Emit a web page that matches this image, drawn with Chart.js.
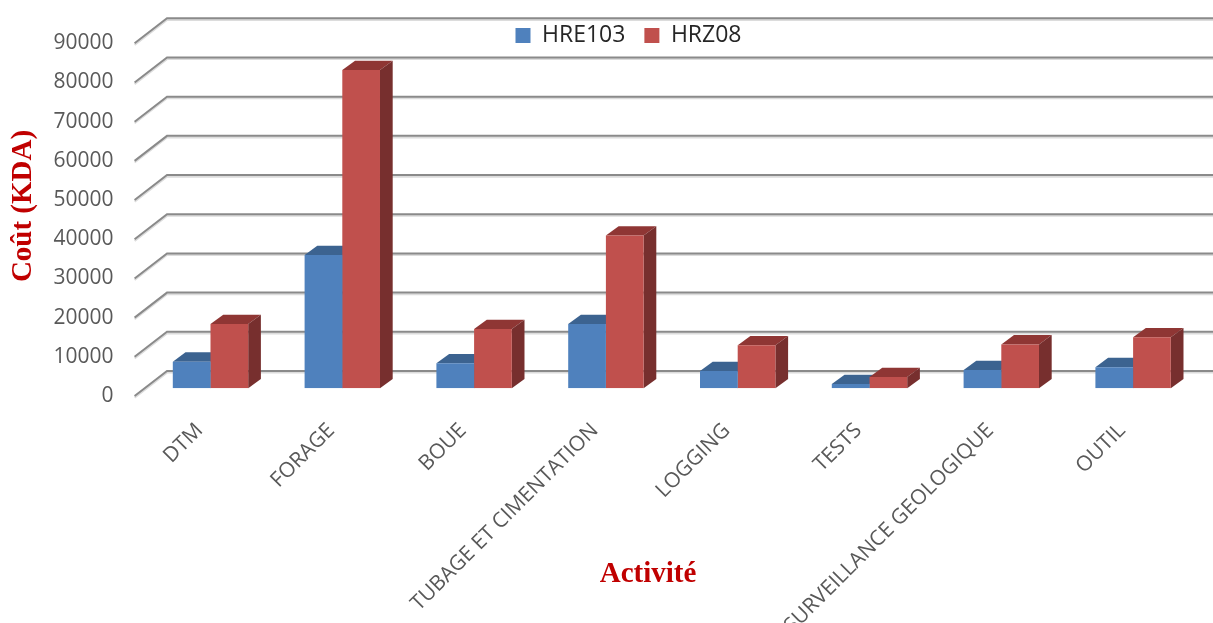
<!DOCTYPE html>
<html lang="fr">
<head>
<meta charset="utf-8">
<title>Coût par activité</title>
<script src="https://cdn.jsdelivr.net/npm/chart.js@4"></script>
<style>
    html, body { margin: 0; padding: 0; background: #fff; overflow: hidden; }
    #wrap { position: relative; width: 1213px; height: 623px; }
</style>
</head>
<body>
<div id="wrap"><canvas id="costChart"></canvas></div>
<script>
const activities = ['DTM', 'FORAGE', 'BOUE', 'TUBAGE ET CIMENTATION', 'LOGGING', 'TESTS', 'SURVEILLANCE GEOLOGIQUE', 'OUTIL'];
const hre103 = [6800, 34000, 6400, 16400, 4400, 1100, 4650, 5400];
const hrz08 = [16400, 81200, 15150, 39000, 11000, 2900, 11200, 13000];

const TEXT_GREY = '#595959';
const TITLE_RED = '#c00000';

// depth of the fake 3D box, in px
const BAR_DX = 12.7;
const BAR_DY = 9.3;
const WALL_BACK = { dx: 22.4, dy: -17.3 };
const WALL_FRONT = { dx: -10, dy: 7.7 };

// side and top faces per series
const faces = [
    { top: '#3c6390', side: '#2f4e73' },
    { top: '#8f3634', side: '#772f2e' },
];

function poly(ctx, pts, color) {
    ctx.fillStyle = color;
    ctx.beginPath();
    pts.forEach((p, i) => (i ? ctx.lineTo(p[0], p[1]) : ctx.moveTo(p[0], p[1])));
    ctx.closePath();
    ctx.fill();
}

const box3d = {
    id: 'box3d',
    beforeDatasetsDraw(chart) {
        const { ctx, scales: { y }, chartArea } = chart;
        ctx.save();

        // back wall lines and their slanted floor part
        y.ticks.forEach(t => {
            const py = y.getPixelForValue(t.value);
            const bx = chartArea.left + WALL_BACK.dx;
            const by = py + WALL_BACK.dy;
            [['#dcdcdc', 1.6], ['#8a8a8a', 0]].forEach(([color, off]) => {
                ctx.strokeStyle = color;
                ctx.lineWidth = 2;
                ctx.beginPath();
                ctx.moveTo(chartArea.left + WALL_FRONT.dx, py + WALL_FRONT.dy + off);
                ctx.lineTo(bx, by + off);
                ctx.lineTo(1213, by + off);
                ctx.stroke();
            });
        });

        // depth faces go under the fronts drawn by the library
        chart.data.datasets.forEach((ds, i) => {
            chart.getDatasetMeta(i).data.forEach(bar => {
                const half = bar.width / 2;
                const l = bar.x - half;
                const r = bar.x + half;
                poly(ctx, [[l, bar.y], [l + BAR_DX, bar.y - BAR_DY], [r + BAR_DX, bar.y - BAR_DY], [r, bar.y]], faces[i].top);
                poly(ctx, [[r, bar.y], [r + BAR_DX, bar.y - BAR_DY], [r + BAR_DX, bar.base - BAR_DY], [r, bar.base]], faces[i].side);
            });
        });
        ctx.restore();
    },
    afterDraw(chart) {
        const { ctx } = chart;
        ctx.save();
        ctx.fillStyle = TITLE_RED;
        ctx.font = 'bold 29px "Liberation Serif"';
        ctx.textAlign = 'center';
        ctx.textBaseline = 'middle';
        ctx.fillText('Activité', 648, 575);
        ctx.translate(24, 206);
        ctx.rotate(-Math.PI / 2);
        ctx.fillText('Coût (KDA)', 0, 0);
        ctx.restore();
    },
    afterLayout(chart) {
        // legend floats over the wall
        const lg = chart.legend;
        lg.left = 423.5;
        lg.right = 833.5;
        lg.top = 5;
        lg.bottom = 60;
        lg.height = 55;
    },
};

new Chart(document.getElementById('costChart'), {
    type: 'bar',
    data: {
        labels: activities,
        datasets: [
            { label: 'HRE103', data: hre103, backgroundColor: '#4f81bd' },
            { label: 'HRZ08', data: hrz08, backgroundColor: '#c0504d' },
        ],
    },
    options: {
        responsive: true,
        maintainAspectRatio: false,
        animation: false,
        layout: { padding: { top: 0, right: 14, left: 0, bottom: 0 } },
        datasets: { bar: { categoryPercentage: 0.572, barPercentage: 1 } },
        plugins: {
            tooltip: { enabled: false },
            legend: {
                position: 'top',
                maxHeight: 25.3,
                labels: {
                    color: '#262626',
                    font: { family: '"Open Sans"', size: 23 },
                    boxWidth: 15,
                    boxHeight: 15,
                    padding: 19,
                },
            },
        },
        scales: {
            x: {
                grid: { display: false },
                border: { display: false },
                afterFit(scale) { scale.height = 234.7; },
                ticks: {
                    autoSkip: false,
                    maxRotation: 45,
                    minRotation: 45,
                    padding: 22,
                    labelOffset: -11,
                    color: TEXT_GREY,
                    font: { family: '"Open Sans"', size: 21 },
                },
            },
            y: {
                min: 0,
                max: 90000,
                grid: { display: false },
                border: { display: false },
                afterFit(scale) { scale.width = 144.6; },
                ticks: {
                    stepSize: 10000,
                    padding: 23,
                    labelOffset: 7.7,
                    format: { useGrouping: false },
                    color: TEXT_GREY,
                    font: { family: '"Open Sans"', size: 21 },
                },
            },
        },
    },
    plugins: [box3d],
});
</script>
</body>
</html>
